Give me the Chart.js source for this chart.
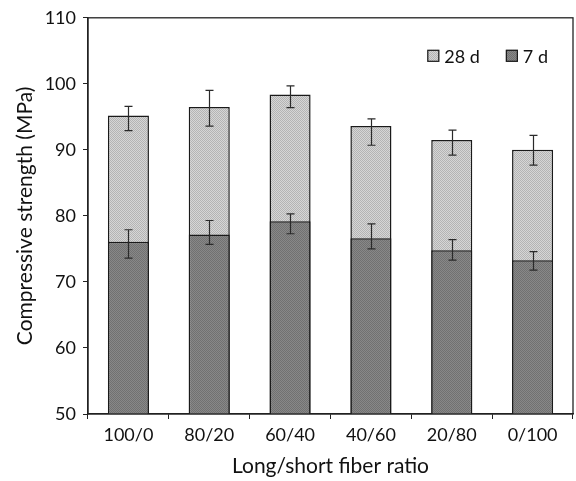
<!DOCTYPE html>
<html>
<head>
<meta charset="utf-8">
<script src="https://cdn.jsdelivr.net/npm/chart.js@4/dist/chart.umd.min.js"></script>
<style>
html,body{margin:0;padding:0;background:#fff;}
#wrap{width:576px;height:481px;}
</style>
</head>
<body>
<div id="wrap"><canvas id="c" width="576" height="481"></canvas></div>
<script>
const categories = ["100/0", "80/20", "60/40", "40/60", "20/80", "0/100"];
const strength28 = [95.2, 96.5, 98.4, 93.6, 91.5, 90.0];
const err28Upper = [96.6, 99.0, 99.7, 94.7, 93.0, 92.2];
const err28Lower = [92.9, 93.6, 96.4, 90.7, 89.2, 87.7];
const strength7 = [76.1, 77.2, 79.2, 76.6, 74.8, 73.3];
const err7Upper = [77.9, 79.3, 80.3, 78.8, 76.4, 74.6];
const err7Lower = [73.6, 75.7, 77.3, 75.0, 73.3, 71.8];
const yTicks = [50, 60, 70, 80, 90, 100, 110];
const legendOrder = ['28 d', '7 d'];

function makePattern(a, b) {
  const p = document.createElement('canvas');
  p.width = 2; p.height = 2;
  const g = p.getContext('2d');
  g.fillStyle = a; g.fillRect(0, 0, 2, 2);
  g.fillStyle = b; g.fillRect(0, 0, 1, 1); g.fillRect(1, 1, 1, 1);
  return document.getElementById('c').getContext('2d').createPattern(p, 'repeat');
}
const fill28 = makePattern('#d6d6d6', '#b4b4b4');
const fill7 = makePattern('#888888', '#717171');

const FONT = "Lato, 'Open Sans', sans-serif";

const errorBars = {
  id: 'errorBars',
  afterDatasetsDraw(chart) {
    const ctx = chart.ctx;
    const y = chart.scales.y;
    const sets = [[1, err28Upper, err28Lower], [0, err7Upper, err7Lower]];
    ctx.save();
    ctx.strokeStyle = '#2a2a2a';
    ctx.lineWidth = 1.2;
    sets.forEach(([di, up, lo]) => {
      const meta = chart.getDatasetMeta(di);
      meta.data.forEach((bar, i) => {
        const x = Math.round(bar.x) + 0.5;
        const yt = y.getPixelForValue(up[i]);
        const yb = y.getPixelForValue(lo[i]);
        ctx.beginPath();
        ctx.moveTo(x, yt); ctx.lineTo(x, yb);
        ctx.moveTo(x - 4, yt); ctx.lineTo(x + 4, yt);
        ctx.moveTo(x - 4, yb); ctx.lineTo(x + 4, yb);
        ctx.stroke();
      });
    });
    ctx.restore();
  }
};

const frameAndLegend = {
  id: 'frameAndLegend',
  afterDraw(chart) {
    const a = chart.chartArea;
    const ctx = chart.ctx;
    ctx.save();
    ctx.strokeStyle = '#222';
    ctx.lineWidth = 1.3;
    ctx.strokeRect(a.left, a.top, a.right - a.left, a.bottom - a.top);
    ctx.font = "18px " + FONT;
    ctx.textBaseline = 'middle';
    const items = legendOrder.map(lbl => chart.data.datasets.find(d => d.label === lbl));
    const box = 12, gapBoxText = 5, gapItems = 26;
    const widths = items.map(d => box + gapBoxText + ctx.measureText(d.label).width);
    const total = widths.reduce((s, w) => s + w, 0) + gapItems * (items.length - 1);
    let x = a.right - 25 - total;
    const cy = a.top + 38;
    items.forEach((d, i) => {
      ctx.fillStyle = d.backgroundColor;
      ctx.fillRect(x, cy - box / 2, box, box);
      ctx.strokeStyle = '#1a1a1a';
      ctx.lineWidth = 1.2;
      ctx.strokeRect(x + 0.5, cy - box / 2 + 0.5, box - 1, box - 1);
      ctx.fillStyle = '#111';
      ctx.fillText(d.label, x + box + gapBoxText, cy + 1);
      x += widths[i] + gapItems;
    });
    ctx.restore();
  }
};

new Chart(document.getElementById('c'), {
  type: 'bar',
  data: {
    labels: categories,
    datasets: [
      { label: '7 d', data: strength7, backgroundColor: fill7, borderColor: '#1a1a1a', borderWidth: 1.5, barPercentage: 0.508, categoryPercentage: 1 },
      { label: '28 d', data: strength28, backgroundColor: fill28, borderColor: '#1a1a1a', borderWidth: 1.5, barPercentage: 0.508, categoryPercentage: 1 }
    ]
  },
  options: {
    responsive: false,
    animation: false,
    devicePixelRatio: 1,
    layout: { padding: { top: 15, right: 3, left: 0, bottom: 0 } },
    plugins: {
      tooltip: { enabled: false },
      legend: { display: false }
    },
    scales: {
      x: {
        stacked: true,
        grid: { display: true, drawOnChartArea: false, drawTicks: true, tickLength: 5, color: '#222', offset: true },
        border: { display: true, color: '#222', width: 1.3 },
        ticks: { color: '#111', font: { family: FONT, size: 18 }, padding: 5 },
        title: { display: true, text: 'Long/short fiber ratio', color: '#111', font: { family: FONT, size: 21 }, padding: { top: 4, bottom: 2 } },
        afterFit(s) { s.height = 67; }
      },
      y: {
        stacked: false,
        min: 50, max: 110,
        afterBuildTicks(s) { s.ticks = yTicks.map(v => ({ value: v })); },
        grid: { display: true, drawOnChartArea: false, drawTicks: true, tickLength: 5, color: '#222' },
        border: { display: true, color: '#222', width: 1.3 },
        ticks: { color: '#111', font: { family: FONT, size: 18 }, padding: 7 },
        title: { display: true, text: 'Compressive strength (MPa)', color: '#111', font: { family: FONT, size: 21 }, padding: { top: 13, bottom: 0 } },
        afterFit(s) { s.width = 88; }
      }
    }
  },
  plugins: [errorBars, frameAndLegend]
});
</script>
</body>
</html>
